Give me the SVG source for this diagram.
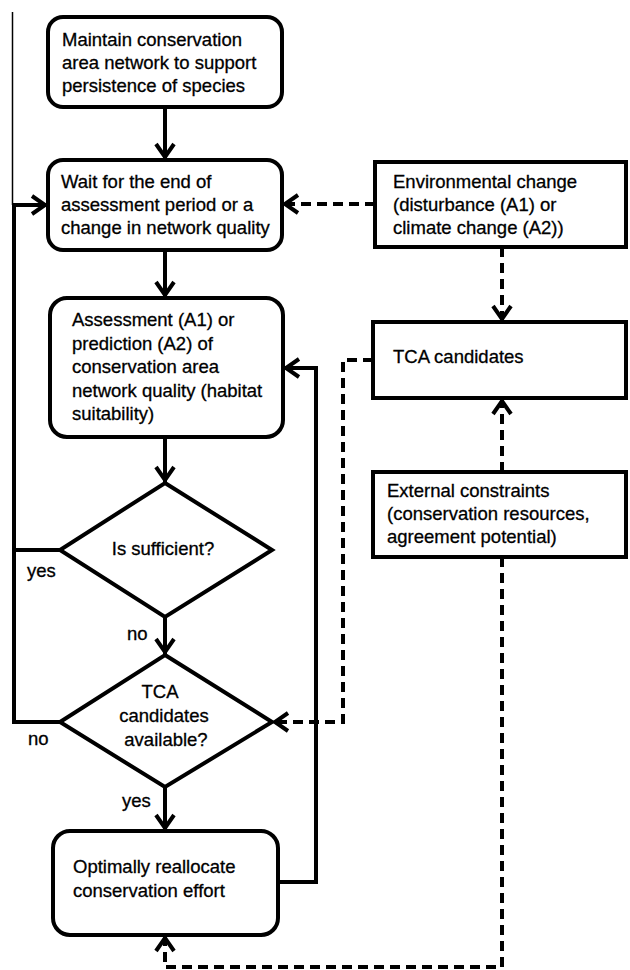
<svg xmlns="http://www.w3.org/2000/svg" width="630" height="970" viewBox="0 0 630 970">
<defs>
<style>
.box{fill:#fff;stroke:#000;stroke-width:4}
.t{font-family:"Liberation Sans",Arial,sans-serif;font-size:18.5px;fill:#000;stroke:#000;stroke-width:0.3}
.m{text-anchor:middle}
.c{fill:none;stroke:#000;stroke-width:4;stroke-linejoin:miter}
.d{stroke-dasharray:10 6}
</style>
<marker id="ah" markerUnits="userSpaceOnUse" viewBox="-20 -12 22 24" refX="0" refY="0" markerWidth="22" markerHeight="24" orient="auto">
<path d="M-16,-9 L-3,0 L-16,9" fill="none" stroke="#000" stroke-width="4" stroke-dasharray="none"/>
</marker>
</defs>
<rect width="630" height="970" fill="#fff"/>
<g id="connectors">
<line x1="12.5" y1="12" x2="12.5" y2="205" stroke="#000" stroke-width="1.5"/>
<path class="c" d="M165,107 L165,160" marker-end="url(#ah)"/>
<path class="c" d="M165,250 L165,298" marker-end="url(#ah)"/>
<path class="c" d="M165,437 L165,483" marker-end="url(#ah)"/>
<path class="c" d="M165,617 L165,655" marker-end="url(#ah)"/>
<path class="c" d="M165,787 L165,831" marker-end="url(#ah)"/>
<path class="c" d="M60,550 L14,550"/>
<path class="c" d="M60,722 L14,722 L14,205 L48,205" marker-end="url(#ah)"/>
<path class="c" d="M278,882 L316,882 L316,368 L283,368" marker-end="url(#ah)"/>
<path class="c d" d="M375,204 L282,204" marker-end="url(#ah)"/>
<path class="c d" d="M502,247 L502,322" marker-end="url(#ah)"/>
<path class="c d" d="M502,472 L502,398" marker-end="url(#ah)"/>
<path class="c d" d="M373,360 L343,360 L343,722 L272,722" marker-end="url(#ah)"/>
<path class="c d" d="M502,557 L502,967 L165,967 L165,935" marker-end="url(#ah)"/>
<text class="t" x="27" y="577">yes</text>
<text class="t" x="127" y="640">no</text>
<text class="t" x="28" y="745">no</text>
<text class="t" x="122" y="807">yes</text>
</g>
<g id="maintain">
<rect class="box" x="48" y="17" width="234" height="90" rx="15"/>
<text class="t" x="62" y="46">Maintain conservation</text>
<text class="t" x="62" y="69">area network to support</text>
<text class="t" x="62" y="92">persistence of species</text>
</g>
<g id="wait">
<rect class="box" x="48" y="160" width="234" height="90" rx="15"/>
<text class="t" x="61" y="188">Wait for the end of</text>
<text class="t" x="61" y="211">assessment period or a</text>
<text class="t" x="61" y="234">change in network quality</text>
</g>
<g id="assessment">
<rect class="box" x="50" y="298" width="233" height="139" rx="17"/>
<text class="t" x="72" y="326">Assessment (A1) or</text>
<text class="t" x="72" y="350">prediction (A2) of</text>
<text class="t" x="72" y="373">conservation area</text>
<text class="t" x="72" y="397">network quality (habitat</text>
<text class="t" x="72" y="420">suitability)</text>
</g>
<g id="sufficient">
<polygon class="box" points="165,483 272,550 165,617 60,550"/>
<text class="t m" x="163" y="555">Is sufficient?</text>
</g>
<g id="available">
<polygon class="box" points="165,655 272,722 165,787 60,722"/>
<text class="t m" x="160" y="698">TCA</text>
<text class="t m" x="164" y="722">candidates</text>
<text class="t m" x="166" y="746">available?</text>
</g>
<g id="reallocate">
<rect class="box" x="53" y="831" width="225" height="104" rx="17"/>
<text class="t" x="73" y="873">Optimally reallocate</text>
<text class="t" x="73" y="897">conservation effort</text>
</g>
<g id="environmental">
<rect class="box" x="375" y="162" width="251" height="85"/>
<text class="t" x="393" y="188">Environmental change</text>
<text class="t" x="393" y="211">(disturbance (A1) or</text>
<text class="t" x="393" y="234">climate change (A2))</text>
</g>
<g id="tca">
<rect class="box" x="373" y="322" width="253" height="76"/>
<text class="t" x="393" y="363">TCA candidates</text>
</g>
<g id="external">
<rect class="box" x="373" y="472" width="253" height="85"/>
<text class="t" x="387" y="497">External constraints</text>
<text class="t" x="387" y="520">(conservation resources,</text>
<text class="t" x="387" y="543">agreement potential)</text>
</g>
</svg>
